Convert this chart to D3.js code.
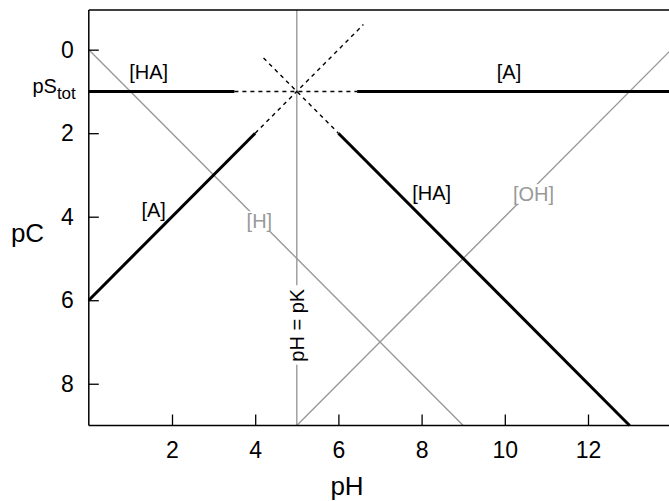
<!DOCTYPE html>
<html>
<head>
<meta charset="utf-8">
<script src="https://cdn.jsdelivr.net/npm/d3@7"></script>
<style>
  html, body { margin: 0; padding: 0; background: #fff; }
  svg { display: block; font-family: "Liberation Sans", Arial, sans-serif; }
</style>
</head>
<body>
<svg id="chart" width="669" height="501"></svg>
<script>
// Acid/base constants of the system
const pK = 5;
const pStot = 1;
const pKw = 14;

// Axis ticks
const xTicks = [2, 4, 6, 8, 10, 12];
const yTicks = [0, 2, 4, 6, 8];

// Asymptotic branches, [pH, pC] end points (solid, heavy)
const haLeft  = [[0, 1], [3.5, 1]];
const aRight  = [[6.45, 1], [14, 1]];
const aLeft   = [[0, 6], [4, 2]];
const haRight = [[6, 2], [13, 9]];

// Extrapolated branches near pK (dashed)
const pStotDash = [[3.5, 1], [6.45, 1]];
const aDash     = [[4, 2], [6.6, -0.6]];
const haDash    = [[4.2, 0.2], [6, 2]];

// Water lines (grey)
const hLine  = [[0, 0], [9, 9]];
const ohLine = [[5, 9], [14, 0]];

// Species labels: text, pH, pC, colour, boxed
const labels = [
  { text: "[HA]", pH: 1.44, pC: 0.53, color: "#000", boxed: false },
  { text: "[A]",  pH: 10.1, pC: 0.53, color: "#000", boxed: false },
  { text: "[A]",  pH: 1.56, pC: 3.85, color: "#000", boxed: false },
  { text: "[HA]", pH: 8.24, pC: 3.43, color: "#000", boxed: false },
  { text: "[H]",  pH: 4.10, pC: 4.11, color: "#999", boxed: true },
  { text: "[OH]", pH: 10.69, pC: 3.46, color: "#999", boxed: true }
];

const svg = d3.select("#chart");
const x = d3.scaleLinear().domain([0, 14]).range([88.8, 671.2]);
const y = d3.scaleLinear().domain([-0.95, 9]).range([10, 425.5]);

const line = d3.line().x(d => x(d[0])).y(d => y(d[1]));

const plot = svg.append("g");

// grey water lines and pH = pK
plot.append("path").datum(hLine).attr("d", line)
  .attr("fill", "none").attr("stroke", "#999").attr("stroke-width", 1.4);
plot.append("path").datum(ohLine).attr("d", line)
  .attr("fill", "none").attr("stroke", "#999").attr("stroke-width", 1.4);
plot.append("path").datum([[pK, -0.95], [pK, 9]]).attr("d", line)
  .attr("fill", "none").attr("stroke", "#999").attr("stroke-width", 1.4);

// dashed extrapolations
[pStotDash, aDash, haDash].forEach(seg => {
  plot.append("path").datum(seg).attr("d", line)
    .attr("fill", "none").attr("stroke", "#000").attr("stroke-width", 1.4)
    .attr("stroke-dasharray", "4,4");
});

// heavy species branches
[haLeft, aRight, aLeft, haRight].forEach(seg => {
  plot.append("path").datum(seg).attr("d", line)
    .attr("fill", "none").attr("stroke", "#000").attr("stroke-width", 3);
});

// frame and axes
const frame = svg.append("g").attr("stroke", "#000").attr("stroke-width", 1.5);
frame.append("line").attr("x1", x(0)).attr("x2", x(14)).attr("y1", y(-0.95)).attr("y2", y(-0.95));
frame.append("line").attr("x1", x(0)).attr("x2", x(14)).attr("y1", y(9)).attr("y2", y(9));
frame.append("line").attr("x1", x(0)).attr("x2", x(0)).attr("y1", y(-0.95)).attr("y2", y(9));

const xAxis = d3.axisBottom(x).tickValues(xTicks).tickSizeInner(-11).tickSizeOuter(0).tickPadding(16);
const gx = svg.append("g").attr("transform", `translate(0,${y(9)})`).call(xAxis);
gx.select(".domain").remove();
gx.selectAll(".tick line").attr("stroke", "#000").attr("stroke-width", 1.3);
gx.selectAll(".tick text").attr("font-size", 23).attr("fill", "#000")
  .attr("font-family", "Liberation Sans, Arial, sans-serif");

const yAxis = d3.axisLeft(y).tickValues(yTicks).tickSizeInner(-10).tickSizeOuter(0).tickPadding(15);
const gy = svg.append("g").attr("transform", `translate(${x(0)},0)`).call(yAxis);
gy.select(".domain").remove();
gy.selectAll(".tick line").attr("stroke", "#000").attr("stroke-width", 1.3);
gy.selectAll(".tick text").attr("font-size", 23).attr("fill", "#000")
  .attr("font-family", "Liberation Sans, Arial, sans-serif");

// pS_tot label on the y axis
const ps = svg.append("text").attr("x", x(0) - 13).attr("y", y(pStot) + 2)
  .attr("text-anchor", "end").attr("font-size", 20).attr("fill", "#000");
ps.append("tspan").text("pS");
ps.append("tspan").attr("dy", 6).attr("font-size", 17).text("tot");

// axis titles
svg.append("text").attr("x", 347).attr("y", 495).attr("text-anchor", "middle")
  .attr("font-size", 26).attr("fill", "#000").text("pH");
svg.append("text").attr("x", 27.5).attr("y", 242).attr("text-anchor", "middle")
  .attr("font-size", 26).attr("fill", "#000").text("pC");

// species labels
labels.forEach(l => {
  const g = svg.append("g").attr("transform", `translate(${x(l.pH)},${y(l.pC)})`);
  const t = g.append("text").attr("text-anchor", "middle").attr("dy", "0.35em")
    .attr("font-size", 20).attr("fill", l.color).text(l.text);
  if (l.boxed) {
    const b = t.node().getBBox();
    g.insert("rect", "text").attr("x", b.x - 2).attr("y", b.y + 1)
      .attr("width", b.width + 4).attr("height", b.height - 2).attr("fill", "#fff");
  }
});

// pH = pK label on the vertical line
const gk = svg.append("g").attr("transform", `translate(${x(pK)},${y(6.6)}) rotate(-90)`);
const tk = gk.append("text").attr("text-anchor", "middle").attr("dy", "0.35em")
  .attr("font-size", 20).attr("fill", "#000").text("pH = pK");
const bk = tk.node().getBBox();
gk.insert("rect", "text").attr("x", bk.x - 3).attr("y", bk.y + 2)
  .attr("width", bk.width + 6).attr("height", bk.height - 4).attr("fill", "#fff");
</script>
</body>
</html>
